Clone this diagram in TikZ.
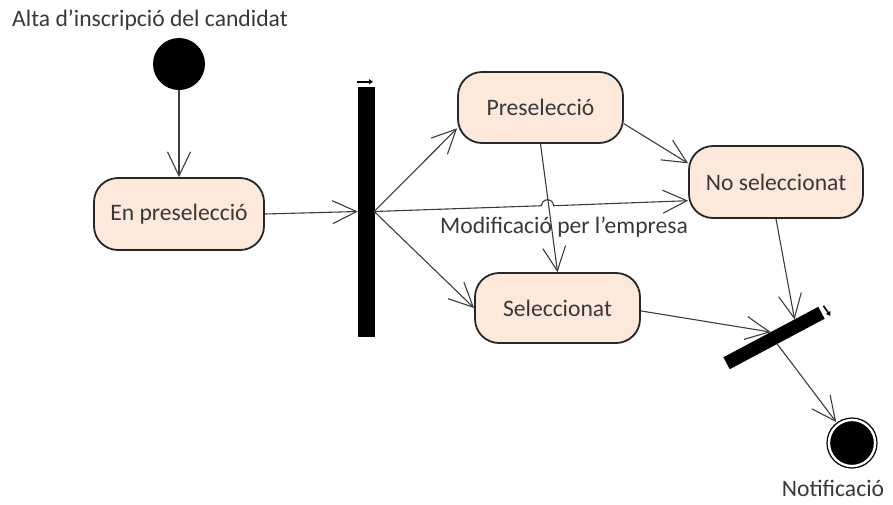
\documentclass[tikz,border=0pt]{standalone}
\usepackage{fontspec}
\setmainfont{Carlito}
\usetikzlibrary{arrows.meta,calc}
\definecolor{peach}{RGB}{252,233,219}
\definecolor{ink}{RGB}{56,56,56}
\definecolor{wire}{RGB}{60,60,60}
\begin{document}
\begin{tikzpicture}[x=1pt,y=-1pt,
  every node/.style={font=\fontsize{23.6}{27}\selectfont, text=ink, inner sep=0pt},
  statebox/.style={draw=black!85, line width=1.8pt, fill=peach, rounded corners=24pt},
  barbox/.style={fill=black, draw=black, rectangle, inner sep=0pt},
  initnode/.style={circle, fill=black, minimum size=52pt},
  finalnode/.style={circle, fill=black, draw=white, line width=2.5pt, double=black, double distance=1.2pt, minimum size=50pt},
  flow/.style={draw=wire, line width=1.1pt, -{Straight Barb[length=24pt,width=23pt,line width=1.1pt]}},
  iconarrow/.style={line width=1.6pt, -{Triangle[length=4pt,width=5pt]}}
]
\useasboundingbox (0,0) rectangle (893,504);

% nodes
\node[anchor=west] (title) at (12,20) {Alta d’inscripció del candidat};
\node[initnode] (start) at (179,64) {};
\node[statebox, minimum width=170pt, minimum height=72pt] (enpre) at (179,214) {En preselecció};
\node[barbox, minimum width=16pt, minimum height=249pt] (fork) at (366,211.5) {};
\node[statebox, minimum width=165pt, minimum height=71pt] (presel) at (540.5,107.5) {Preselecció};
\node[statebox, minimum width=174pt, minimum height=72pt] (nosel) at (776,182) {No seleccionat};
\node[statebox, minimum width=165pt, minimum height=70pt] (sel) at (557.5,308) {Seleccionat};
\node[barbox, minimum width=107pt, minimum height=13pt, rotate=28] (join) at (774,338) {};
\node[finalnode] (end) at (852,443) {};
\node (notif) at (833,488) {Notificació};
\node (modlbl) at (564,227) {Modificació per l’empresa};

% fork / join orientation marks
\draw[iconarrow] ($(fork.north)+(-9,-5)$) -- ($(fork.north)+(7,-5)$);
\draw[iconarrow] ($(join.east)+(2,-7)$) -- ($(join.east)+(9,3)$);

% connectors
\draw[flow] (start) -- (enpre.north);
\draw[flow] (enpre.east) -- (fork.west);
\draw[flow] (fork.east) -- (presel.194);
\coordinate (hopA) at ($(fork.east)!0.533!(nosel.192)$);
\draw[flow] (fork.east) -- (hopA) arc[start angle=180, end angle=360, radius=6] -- (nosel.192);
\draw[flow] (fork.east) -- (sel.west);
\draw[flow] (presel.south) -- (sel.north);
\draw[flow] (presel.-11) -- (nosel.168);
\draw[flow] (sel.-2) -- (join.north);
\draw[flow] (nosel.south) -- ($(join.north)!0.5!(join.north east)$);
\draw[flow] (join.south) -- (end);
\end{tikzpicture}
\end{document}
